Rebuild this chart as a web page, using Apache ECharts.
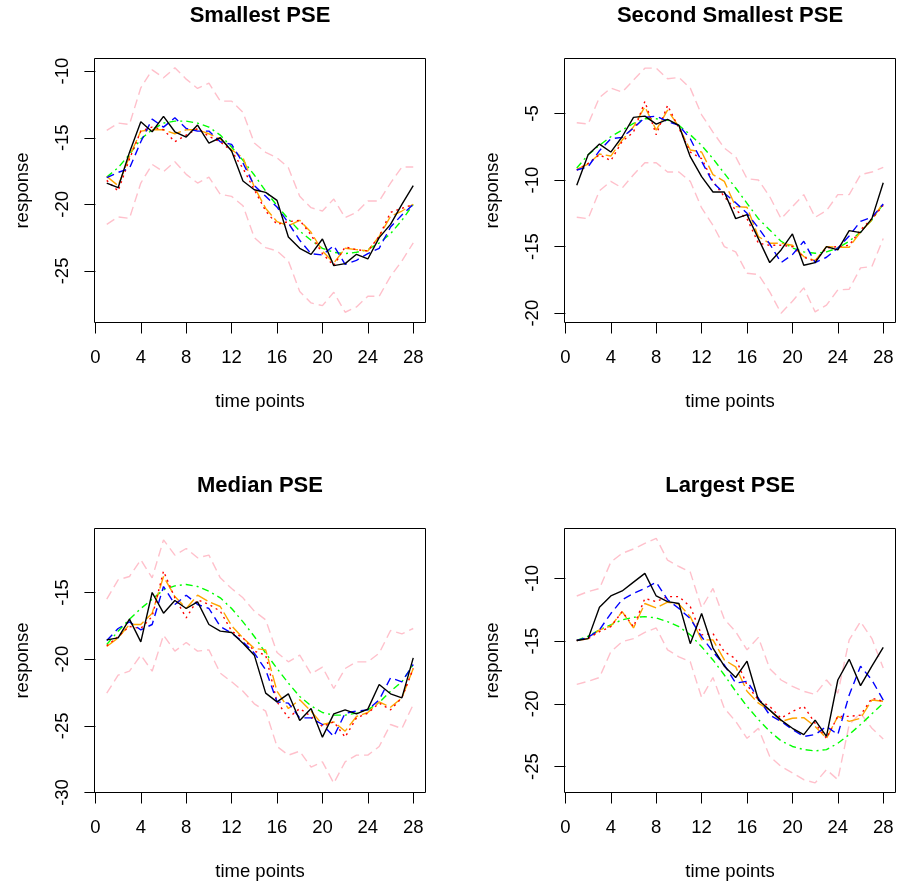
<!DOCTYPE html>
<html><head><meta charset="utf-8">
<script src="https://cdn.jsdelivr.net/npm/echarts@6/dist/echarts.min.js"></script>
<style>html,body{margin:0;padding:0;background:#fff}#c{width:897px;height:888px}</style>
</head><body><div id="c"></div>
<script>
// ---------- data ----------
const timePoints = [1,2,3,4,5,6,7,8,9,10,11,12,13,14,15,16,17,18,19,20,21,22,23,24,25,26,27,28];
const xTickValues = [0,4,8,12,16,20,24,28];
const panelTitles = ['Smallest PSE','Second Smallest PSE','Median PSE','Largest PSE'];
const xAxisTitle = 'time points';
const yAxisTitle = 'response';
const yTicks1 = [-25,-20,-15,-10];
const yTicks2 = [-20,-15,-10,-5];
const yTicks3 = [-30,-25,-20,-15];
const yTicks4 = [-25,-20,-15,-10];

// Panel 1: Smallest PSE
const p1Black  = [-18.4,-18.75,-16.1,-13.8,-14.55,-13.4,-14.55,-14.95,-14.05,-15.4,-15.0,-16.0,-18.25,-18.9,-19.1,-19.7,-22.45,-23.3,-23.75,-22.6,-24.6,-24.45,-23.75,-24.1,-22.5,-21.5,-20.0,-18.6];
const p1Blue   = [-18.0,-17.6,-17.3,-15.3,-13.6,-14.2,-13.5,-14.3,-14.5,-14.5,-15.3,-15.5,-16.9,-18.6,-19.4,-20.2,-21.4,-22.7,-23.7,-23.8,-23.1,-24.5,-24.2,-23.7,-23.3,-21.7,-20.8,-20.0];
const p1Red    = [-18.2,-19.0,-16.6,-14.5,-14.2,-14.4,-15.3,-14.8,-14.3,-14.9,-15.3,-16.0,-17.3,-18.9,-20.5,-21.5,-21.3,-21.2,-22.3,-23.7,-24.6,-23.2,-23.4,-23.5,-22.4,-20.6,-20.3,-20.0];
const p1Orange = [-17.9,-18.6,-16.4,-14.5,-14.4,-14.4,-14.7,-14.4,-14.4,-14.7,-15.1,-15.9,-16.5,-18.7,-20.3,-21.3,-21.6,-21.2,-22.1,-23.5,-24.4,-23.3,-23.4,-23.5,-22.4,-20.9,-20.5,-20.0];
const p1Green  = [-17.95,-17.25,-16.25,-15.1,-14.4,-13.9,-13.75,-13.75,-13.9,-14.2,-14.8,-15.7,-16.7,-17.8,-19.0,-20.1,-21.1,-22.0,-22.7,-23.3,-23.6,-23.7,-23.6,-23.4,-22.9,-22.2,-21.2,-20.0];
const p1Upper  = [-14.45,-13.9,-14.0,-11.25,-9.9,-10.5,-9.75,-10.6,-11.3,-10.9,-12.25,-12.25,-13.1,-15.4,-16.1,-16.5,-17.25,-19.4,-20.25,-20.5,-19.6,-21.0,-20.6,-19.75,-19.75,-18.4,-17.2,-17.2];
const p1Lower  = [-21.5,-20.95,-21.05,-18.4,-17.0,-17.55,-16.8,-17.75,-18.4,-17.95,-19.25,-19.4,-20.1,-22.5,-23.25,-23.5,-24.25,-26.55,-27.4,-27.6,-26.6,-28.1,-27.7,-26.9,-26.9,-25.4,-24.25,-22.9];

// Panel 2: Second Smallest PSE
const p2Black  = [-10.4,-8.1,-7.3,-7.9,-6.75,-5.3,-5.2,-5.8,-5.45,-5.9,-8.25,-9.75,-10.9,-10.9,-12.9,-12.6,-14.4,-16.2,-15.25,-14.05,-16.4,-16.2,-15.0,-15.25,-13.8,-13.95,-12.9,-10.2];
const p2Blue   = [-9.25,-9.0,-7.8,-6.9,-6.8,-6.1,-5.3,-5.2,-5.6,-5.9,-6.9,-8.6,-10.2,-11.0,-11.7,-12.5,-13.6,-14.8,-16.2,-15.6,-14.6,-16.2,-15.8,-15.1,-14.2,-13.1,-12.8,-11.8];
const p2Red    = [-9.25,-8.75,-8.1,-8.55,-7.1,-6.4,-4.1,-6.6,-4.4,-6.1,-7.9,-8.4,-10.1,-11.25,-12.25,-12.9,-14.75,-14.9,-14.9,-15.0,-15.8,-16.1,-15.1,-15.0,-14.9,-13.75,-12.9,-11.9];
const p2Orange = [-9.2,-8.8,-8.05,-8.2,-7.0,-6.0,-4.5,-6.25,-4.75,-6.0,-7.75,-7.9,-9.6,-10.1,-12.0,-12.05,-14.25,-14.75,-14.75,-14.9,-15.75,-16.05,-15.0,-15.05,-15.05,-13.9,-13.0,-11.7];
const p2Green  = [-9.1,-8.1,-7.4,-6.75,-6.25,-5.75,-5.4,-5.4,-5.5,-5.9,-6.6,-7.4,-8.4,-9.5,-10.6,-11.75,-12.9,-13.75,-14.6,-15.1,-15.4,-15.5,-15.4,-15.1,-14.6,-13.9,-13.0,-11.8];
const p2Upper  = [-5.7,-5.8,-3.8,-3.1,-3.4,-2.5,-1.6,-1.6,-2.4,-2.3,-3.1,-5.1,-6.4,-7.6,-8.25,-9.9,-10.0,-11.25,-12.9,-12.0,-11.1,-12.8,-12.3,-11.1,-11.1,-9.6,-9.4,-9.05];
const p2Lower  = [-12.8,-12.9,-10.8,-10.1,-10.6,-9.6,-8.7,-8.7,-9.4,-9.4,-10.1,-12.1,-13.4,-15.0,-15.4,-17.0,-17.1,-18.4,-20.0,-19.1,-18.1,-19.9,-19.4,-18.25,-18.2,-16.6,-16.5,-14.4];

// Panel 3: Median PSE
const p3Black  = [-18.55,-18.4,-17.0,-18.7,-15.0,-16.55,-15.6,-16.2,-15.7,-17.4,-17.9,-18.0,-18.8,-19.7,-22.55,-23.2,-22.6,-24.6,-23.7,-25.85,-24.1,-23.8,-24.1,-23.75,-21.9,-22.6,-22.9,-19.9];
const p3Blue   = [-18.6,-17.7,-17.2,-17.8,-17.4,-14.55,-15.9,-15.2,-15.9,-16.2,-17.55,-18.05,-18.7,-19.55,-20.8,-23.2,-23.3,-24.4,-24.4,-24.9,-25.8,-24.05,-23.9,-23.8,-23.05,-21.4,-21.7,-20.4];
const p3Red    = [-19.0,-18.3,-17.55,-17.7,-16.8,-13.4,-15.4,-16.9,-15.55,-15.9,-16.4,-17.9,-18.4,-19.4,-19.7,-23.2,-24.4,-23.7,-24.3,-25.05,-24.7,-25.85,-24.4,-24.05,-23.3,-23.8,-22.9,-20.7];
const p3Orange = [-19.05,-18.4,-17.4,-17.4,-16.55,-13.8,-15.3,-16.2,-15.2,-15.7,-16.05,-17.5,-18.4,-19.2,-19.3,-22.4,-23.7,-23.05,-23.9,-24.9,-24.7,-25.4,-24.3,-24.0,-23.2,-23.6,-22.9,-20.7];
const p3Green  = [-18.9,-17.9,-17.0,-16.2,-15.5,-14.8,-14.5,-14.4,-14.55,-14.9,-15.4,-16.2,-17.2,-18.3,-19.55,-20.7,-21.8,-22.8,-23.5,-24.0,-24.2,-24.2,-24.05,-23.8,-23.25,-22.4,-21.7,-20.4];
const p3Upper  = [-15.5,-14.05,-13.8,-12.55,-13.9,-11.05,-12.2,-11.7,-12.4,-12.2,-13.9,-14.7,-15.4,-16.4,-17.05,-19.5,-20.2,-19.7,-21.1,-20.6,-22.2,-20.7,-20.2,-20.2,-19.55,-17.85,-18.1,-17.7];
const p3Lower  = [-22.55,-21.2,-20.9,-19.7,-20.9,-18.2,-19.4,-18.75,-19.4,-19.3,-21.05,-21.7,-22.4,-23.35,-23.9,-26.55,-27.2,-26.9,-28.1,-27.7,-29.3,-27.7,-27.2,-27.2,-26.55,-24.9,-25.2,-23.4];

// Panel 4: Largest PSE
const p4Black  = [-14.95,-14.8,-12.3,-11.4,-11.0,-10.3,-9.6,-11.4,-11.85,-12.0,-15.2,-12.8,-15.55,-17.0,-17.9,-16.6,-19.7,-20.5,-21.3,-21.95,-22.45,-21.3,-22.6,-18.1,-16.45,-18.55,-17.0,-15.5];
const p4Blue   = [-14.95,-14.7,-14.1,-12.8,-11.7,-11.2,-10.8,-10.3,-11.7,-12.4,-13.2,-14.65,-15.85,-16.9,-18.35,-18.2,-19.55,-20.9,-21.4,-22.05,-22.6,-22.45,-21.8,-22.45,-19.3,-17.0,-18.1,-19.7];
const p4Red    = [-14.95,-14.8,-14.25,-13.85,-12.65,-13.85,-11.6,-11.85,-11.45,-11.45,-12.25,-14.5,-14.4,-15.85,-16.4,-18.5,-19.7,-20.2,-21.15,-20.6,-20.2,-21.55,-22.75,-21.0,-21.0,-20.9,-19.55,-19.8];
const p4Orange = [-14.95,-14.8,-14.1,-13.8,-12.65,-13.95,-12.0,-12.35,-11.9,-12.05,-13.05,-14.9,-14.9,-16.5,-17.05,-19.0,-19.95,-20.5,-21.4,-21.15,-21.1,-21.8,-22.75,-21.0,-21.4,-21.15,-19.7,-19.8];
const p4Green  = [-14.95,-14.6,-14.1,-13.7,-13.3,-13.1,-13.05,-13.15,-13.45,-13.85,-14.5,-15.45,-16.5,-17.7,-19.0,-20.2,-21.25,-22.2,-22.95,-23.4,-23.65,-23.75,-23.65,-23.15,-22.45,-21.65,-20.8,-19.95];
const p4Upper  = [-11.4,-11.05,-10.8,-8.7,-8.0,-7.65,-7.2,-6.8,-8.55,-9.05,-9.5,-12.35,-10.8,-13.25,-14.25,-15.7,-14.7,-17.2,-18.1,-18.6,-19.0,-19.25,-18.1,-19.15,-14.9,-13.45,-14.8,-17.15];
const p4Lower  = [-18.45,-18.2,-17.9,-15.85,-15.05,-14.8,-14.3,-13.95,-15.7,-16.25,-16.65,-19.5,-17.9,-20.35,-21.4,-22.75,-21.95,-24.2,-25.0,-25.5,-26.05,-26.3,-25.25,-26.05,-21.65,-20.75,-21.95,-22.8];

// ---------- layout / style ----------
const FONT = '"Liberation Sans", Arial, Helvetica, sans-serif';
const panels = [
  {lines:[p1Black,p1Blue,p1Red,p1Orange,p1Green,p1Upper,p1Lower], yTicks:yTicks1, yMin:-28.87, yMax:-9.05, left:94.5, top:58.5},
  {lines:[p2Black,p2Blue,p2Red,p2Orange,p2Green,p2Upper,p2Lower], yTicks:yTicks2, yMin:-20.7, yMax:-0.875, left:564.5, top:58.5},
  {lines:[p3Black,p3Blue,p3Red,p3Orange,p3Green,p3Upper,p3Lower], yTicks:yTicks3, yMin:-30.0, yMax:-10.2, left:94.5, top:528.5},
  {lines:[p4Black,p4Blue,p4Red,p4Orange,p4Green,p4Upper,p4Lower], yTicks:yTicks4, yMin:-27.07, yMax:-6.02, left:564.5, top:528.5}
];
const GW = 331, GH = 264;
const lineStyles = [
  {color:'#000000', type:'solid'},
  {color:'#0000FF', type:[8,5]},
  {color:'#FF0000', type:[2,4]},
  {color:'#FFA500', type:[13,4]},
  {color:'#00FF00', type:[7,4,2,4]},
  {color:'#FFC0CB', type:[9,5]},
  {color:'#FFC0CB', type:[9,5]}
];
const drawOrder = [5,6,4,3,2,1,0];

const grid = [], xAxis = [], yAxis = [], series = [], graphic = [];
panels.forEach((p, i) => {
  grid.push({left:p.left, top:p.top, width:GW, height:GH, show:true, borderColor:'#000', borderWidth:1, backgroundColor:'transparent'});
  xAxis.push({
    type:'value', gridIndex:i, min:-0.08, max:29.08,
    axisLine:{show:false},
    axisTick:{show:true, customValues:xTickValues, length:11, lineStyle:{color:'#000', width:1}},
    axisLabel:{customValues:xTickValues, fontSize:18.5, color:'#000', margin:26, fontFamily:FONT},
    splitLine:{show:false},
    name:xAxisTitle, nameLocation:'middle', nameGap:70,
    nameTextStyle:{fontSize:18.5, color:'#000', fontFamily:FONT}
  });
  yAxis.push({
    type:'value', gridIndex:i, min:p.yMin, max:p.yMax,
    axisLine:{show:false},
    axisTick:{show:true, customValues:p.yTicks, length:11, lineStyle:{color:'#000', width:1}},
    axisLabel:{customValues:p.yTicks, rotate:90, fontSize:18.5, color:'#000', margin:22, fontFamily:FONT},
    splitLine:{show:false},
    name:yAxisTitle, nameLocation:'middle', nameGap:62, nameRotate:90,
    nameTextStyle:{fontSize:18.5, color:'#000', fontFamily:FONT}
  });
  drawOrder.forEach(k => {
    const arr = p.lines[k];
    series.push({
      type:'line', xAxisIndex:i, yAxisIndex:i, symbol:'none', silent:true,
      data: timePoints.map((t, j) => [t, arr[j]]),
      lineStyle:{color:lineStyles[k].color, type:lineStyles[k].type, width:1.4, cap:'butt'},
      z: 2 + (6 - k)
    });
  });
  graphic.push({
    type:'text', x:p.left + GW/2, y:p.top - 43,
    style:{text:panelTitles[i], fill:'#000', font:'bold 22px ' + FONT, align:'center', verticalAlign:'middle'}
  });
});

const chart = echarts.init(document.getElementById('c'), null, {renderer:'canvas'});
chart.setOption({animation:false, backgroundColor:'#fff', grid, xAxis, yAxis, series, graphic});
</script>
</body></html>
